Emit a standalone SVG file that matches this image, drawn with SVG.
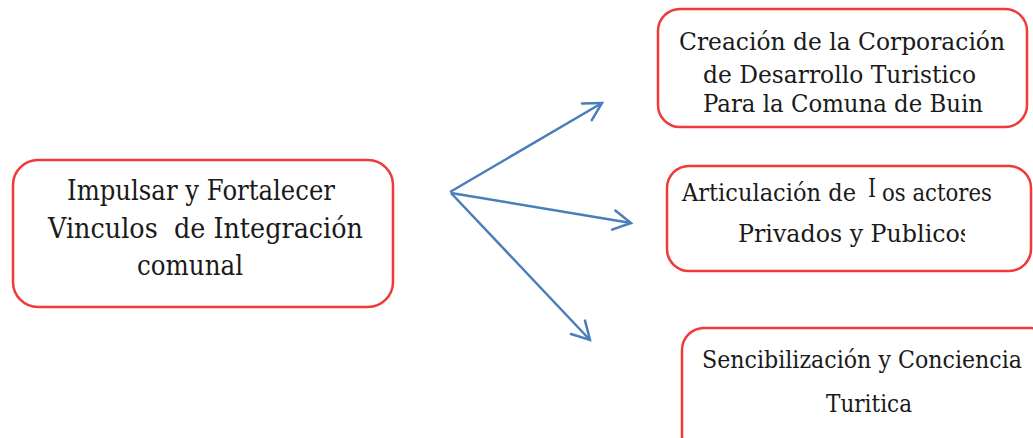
<svg xmlns="http://www.w3.org/2000/svg" width="1033" height="438" viewBox="0 0 1033 438">
  <style>
    .box { fill: #ffffff; stroke: #f03a3a; stroke-width: 2.5; }
    .lbl { font-family: "DejaVu Serif", "Liberation Serif", serif; fill: #1a1a1a; }
    .big { font-size: 27px; }
    .med { font-size: 25px; }
    .conn { stroke: #4a7ebb; stroke-width: 2.5; fill: none; marker-end: url(#head); }
  </style>
  <defs>
    <marker id="head" markerUnits="userSpaceOnUse" markerWidth="30" markerHeight="30" viewBox="-22 -15 26 30" refX="0" refY="0" orient="auto">
      <path d="M -17.5,-9.7 L 0,0 L -17.5,9.7" fill="none" stroke="#4a7ebb" stroke-width="2.5" stroke-linecap="round" stroke-linejoin="miter"/>
    </marker>
    <clipPath id="clipMid">
      <rect x="660" y="160" width="305" height="120"/>
    </clipPath>
  </defs>
  <rect width="1033" height="438" fill="#ffffff"/>

  <g id="connectors">
    <line class="conn" x1="450" y1="192" x2="602" y2="103"/>
    <line class="conn" x1="451" y1="193" x2="631" y2="223"/>
    <line class="conn" x1="451" y1="193" x2="590" y2="340"/>
  </g>

  <g id="node-impulsar">
    <rect class="box" x="13" y="160" width="380" height="147" rx="25" ry="25"/>
    <text class="lbl big" x="67" y="200" textLength="268" lengthAdjust="spacingAndGlyphs">Impulsar y Fortalecer</text>
    <text class="lbl big" x="48" y="238" textLength="315" lengthAdjust="spacingAndGlyphs" xml:space="preserve">Vinculos  de Integración</text>
    <text class="lbl big" x="137" y="275" textLength="106" lengthAdjust="spacingAndGlyphs">comunal</text>
  </g>

  <g id="node-corporacion">
    <rect class="box" x="658" y="9" width="369" height="118" rx="22" ry="22"/>
    <text class="lbl med" x="679" y="50" textLength="326" lengthAdjust="spacingAndGlyphs">Creación de la Corporación</text>
    <text class="lbl med" x="703" y="83" textLength="273" lengthAdjust="spacingAndGlyphs">de Desarrollo Turistico</text>
    <text class="lbl med" x="703" y="112" textLength="280" lengthAdjust="spacingAndGlyphs">Para la Comuna de Buin</text>
  </g>

  <g id="node-articulacion">
    <rect class="box" x="667" y="166" width="364" height="105" rx="22" ry="22"/>
    <text class="lbl med" x="682" y="201" textLength="174" lengthAdjust="spacingAndGlyphs">Articulación de</text>
    <text class="lbl" x="868" y="197" font-size="26" textLength="8" lengthAdjust="spacingAndGlyphs">I</text>
    <text class="lbl med" x="882" y="201" textLength="110" lengthAdjust="spacingAndGlyphs">os actores</text>
    <g clip-path="url(#clipMid)">
      <text class="lbl med" x="738" y="242" textLength="234" lengthAdjust="spacingAndGlyphs">Privados y Publicos</text>
    </g>
  </g>

  <g id="node-sencibilizacion">
    <rect class="box" x="682" y="328" width="370" height="130" rx="22" ry="22"/>
    <text class="lbl med" x="702" y="368" textLength="320" lengthAdjust="spacingAndGlyphs">Sencibilización y Conciencia</text>
    <text class="lbl med" x="826" y="412" textLength="86" lengthAdjust="spacingAndGlyphs">Turitica</text>
  </g>
</svg>
